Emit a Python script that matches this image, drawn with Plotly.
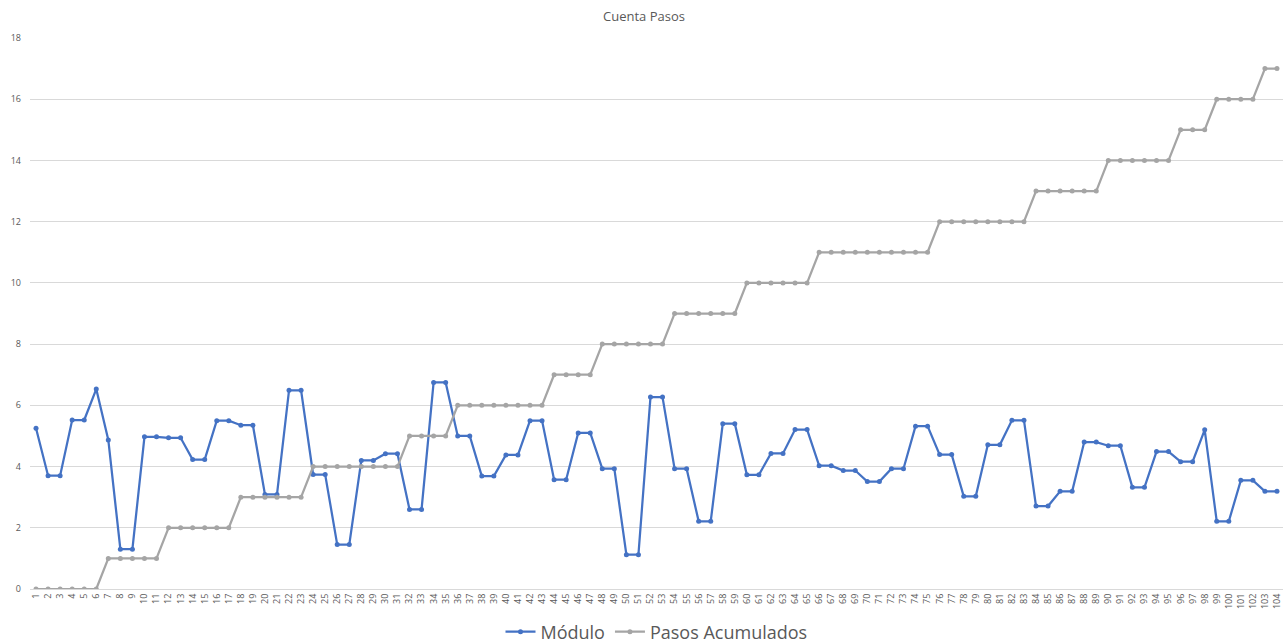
import plotly.graph_objects as go

# Step index (category labels)
pasos = [str(i) for i in range(1, 105)]

# Magnitude of the acceleration vector at each sample
modulo = [
    5.25, 3.70, 3.70, 5.52, 5.52, 6.53, 4.87, 1.30, 1.30, 4.97,
    4.97, 4.94, 4.94, 4.23, 4.23, 5.50, 5.50, 5.35, 5.35, 3.09,
    3.09, 6.49, 6.49, 3.74, 3.74, 1.45, 1.45, 4.20, 4.20, 4.42,
    4.42, 2.60, 2.60, 6.75, 6.75, 5.00, 5.00, 3.69, 3.69, 4.38,
    4.38, 5.50, 5.50, 3.57, 3.57, 5.10, 5.10, 3.93, 3.93, 1.12,
    1.12, 6.27, 6.27, 3.93, 3.93, 2.21, 2.21, 5.40, 5.40, 3.73,
    3.73, 4.43, 4.43, 5.21, 5.21, 4.03, 4.03, 3.87, 3.87, 3.51,
    3.51, 3.93, 3.93, 5.32, 5.32, 4.39, 4.39, 3.03, 3.03, 4.71,
    4.71, 5.51, 5.51, 2.71, 2.71, 3.19, 3.19, 4.80, 4.80, 4.68,
    4.68, 3.32, 3.32, 4.49, 4.49, 4.16, 4.16, 5.20, 2.21, 2.21,
    3.55, 3.55, 3.19, 3.19,
]

# Running count of detected steps
pasos_acumulados = (
    [0] * 6 + [1] * 5 + [2] * 6 + [3] * 6 + [4] * 8 + [5] * 4 + [6] * 8
    + [7] * 4 + [8] * 6 + [9] * 6 + [10] * 6 + [11] * 10 + [12] * 8
    + [13] * 6 + [14] * 6 + [15] * 3 + [16] * 4 + [17] * 2
)

y_ticks = [0, 2, 4, 6, 8, 10, 12, 14, 16, 18]

text_color = "#595959"
grid_color = "#d9d9d9"

fig = go.Figure()
fig.add_trace(go.Scatter(
    x=pasos, y=modulo, name="Módulo", mode="lines+markers",
    line=dict(color="#4472C4", width=2.25),
    marker=dict(color="#4472C4", size=5),
))
fig.add_trace(go.Scatter(
    x=pasos, y=pasos_acumulados, name="Pasos Acumulados", mode="lines+markers",
    line=dict(color="#A5A5A5", width=2.25),
    marker=dict(color="#A5A5A5", size=5),
))

fig.update_layout(
    width=1288, height=644,
    paper_bgcolor="white", plot_bgcolor="white",
    margin=dict(l=30, r=5, t=38, b=55, autoexpand=False),
    font=dict(family="Open Sans, Liberation Sans, sans-serif", color=text_color),
    title=dict(text="Cuenta Pasos", x=0.5, xanchor="center", y=0.975, yanchor="middle",
               font=dict(size=13, color=text_color)),
    showlegend=True,
    legend=dict(orientation="h", x=0.5, xanchor="center", y=-0.078, yanchor="middle",
                font=dict(size=18, color=text_color), itemwidth=30),
    xaxis=dict(
        type="category", range=[-0.5, 103.5], tickangle=-90, automargin=False,
        tickfont=dict(size=9, color=text_color), showgrid=False,
        showline=True, linecolor=grid_color, linewidth=1, ticks="",
        zeroline=False,
    ),
    yaxis=dict(
        range=[0, 18], tickvals=y_ticks, tickfont=dict(size=9, color=text_color),
        showgrid=True, gridcolor=grid_color, gridwidth=1, zeroline=False,
        showline=False, ticks="", ticklabelstandoff=8, automargin=False,
    ),
)

fig.write_html("out.html")
